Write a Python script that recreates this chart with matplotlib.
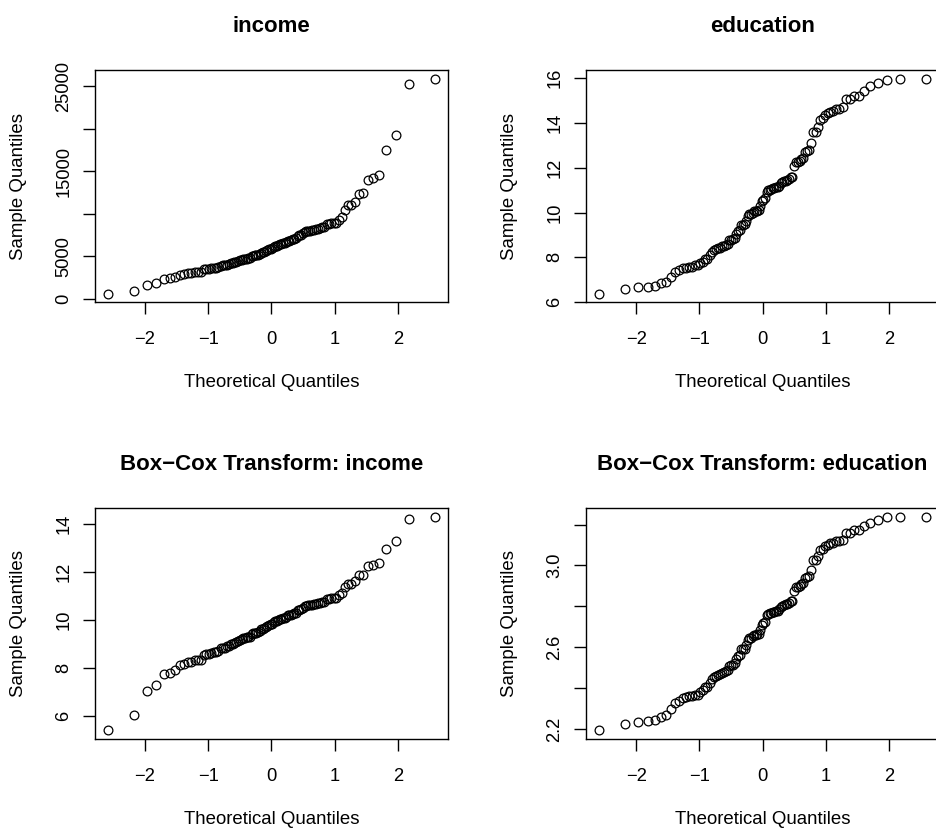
import numpy as np
import matplotlib
matplotlib.use('Agg')
import matplotlib.pyplot as plt
from statistics import NormalDist

# ---------- data: Prestige occupations ----------
income = [12351, 25879, 9271, 8865, 8403, 11030, 8258, 14163, 11377, 11023,
          5902, 7059, 8425, 8049, 7405, 6336, 19263, 6112, 9593, 4686,
          12480, 5648, 8034, 25308, 14558, 17498, 4614, 3485, 5092, 10432,
          5180, 6197, 7562, 8206, 4036, 3148, 4348, 2448, 4330, 4761,
          3016, 2901, 5511, 3739, 3161, 4741, 5052, 6259, 4075, 7482,
          8780, 2594, 918, 2370, 8131, 6992, 7956, 8895, 8891, 3116,
          3930, 7869, 611, 3000, 3472, 3582, 3643, 1656, 6860, 4199,
          5134, 5134, 1890, 4443, 3485, 8043, 6686, 6565, 6477, 5811,
          6573, 3942, 5449, 2847, 5795, 7716, 4696, 8316, 7147, 8880,
          5299, 5959, 4549, 6928, 3910, 14032, 6824, 5562, 4224, 4753,
          6462, 3617]

education = [13.11, 12.26, 12.77, 11.42, 14.62, 15.64, 15.09, 15.44, 14.52, 14.64,
             12.39, 12.30, 13.83, 14.44, 14.36, 14.21, 15.77, 14.15, 15.22, 14.50,
             15.97, 13.62, 15.08, 15.96, 15.94, 14.71, 12.46, 9.45, 13.62, 15.21,
             12.79, 11.09, 12.71, 11.44, 11.59, 11.49, 11.32, 10.64, 11.36, 9.17,
             12.09, 11.04, 9.22, 10.07, 10.51, 11.20, 11.13, 11.43, 11.00, 9.84,
             11.13, 10.05, 9.62, 9.93, 11.60, 11.09, 11.03, 9.47, 10.93, 7.74,
             8.50, 10.57, 9.46, 7.33, 7.11, 7.58, 6.84, 8.60, 8.88, 7.54,
             7.64, 7.64, 7.42, 6.69, 6.74, 10.09, 8.81, 8.40, 7.92, 8.43,
             8.78, 8.76, 10.29, 6.38, 8.10, 10.10, 6.67, 9.05, 9.93, 8.24,
             6.92, 6.60, 7.81, 8.33, 7.52, 12.27, 8.49, 7.58, 7.93, 8.37,
             10.00, 8.55]

# power transform: y = a + b * x**lam
bc_income = dict(lam=0.24, a=-0.71, b=1.3098)
bc_education = dict(lam=0.424, a=0.0, b=1.0)

titles = ['income', 'education',
          'Box\u2212Cox Transform: income', 'Box\u2212Cox Transform: education']
xticks = [-2, -1, 0, 1, 2]
yticks = [[0, 5000, 10000, 15000, 20000, 25000],
          [6, 8, 10, 12, 14, 16],
          [6, 8, 10, 12, 14],
          [2.2, 2.4, 2.6, 2.8, 3.0, 3.2]]
ylabels = [['0', '5000', '', '15000', '', '25000'],
           ['6', '8', '10', '12', '14', '16'],
           ['6', '8', '10', '12', '14'],
           ['2.2', '', '2.6', '', '3.0', '']]


def power_tf(vals, p):
    v = np.asarray(vals, dtype=float)
    return p['a'] + p['b'] * v ** p['lam']


samples = [np.array(income, dtype=float), np.array(education, dtype=float),
           power_tf(income, bc_income), power_tf(education, bc_education)]

plt.rcParams['font.family'] = ['Liberation Sans', 'DejaVu Sans']

W, H = 937, 833
fig = plt.figure(figsize=(W / 100, H / 100), dpi=100)

boxes = [(95, 70.3, 447.7, 302.3), (586.3, 70.3, 939, 302.3),
         (95, 508.3, 447.7, 739), (586.3, 508.3, 939, 739)]

nd = NormalDist()
for i in range(4):
    x0, y0, x1, y1 = boxes[i]
    ax = fig.add_axes([x0 / W, 1 - y1 / H, (x1 - x0) / W, (y1 - y0) / H])
    y = np.sort(samples[i])
    n = len(y)
    theo = np.array([nd.inv_cdf((k + 0.5) / n) for k in range(n)])  # ppoints

    ax.plot(theo, y, 'o', mfc='none', mec='black', ms=6.3, mew=0.9)

    # ---------- R style 4% axis padding ----------
    xr = theo.max() - theo.min()
    yr = y.max() - y.min()
    ax.set_xlim(theo.min() - 0.04 * xr, theo.max() + 0.04 * xr)
    ax.set_ylim(y.min() - 0.04 * yr, y.max() + 0.04 * yr)

    ax.set_xticks(xticks)
    ax.set_xticklabels(['\u22122', '\u22121', '0', '1', '2'])
    ax.set_yticks(yticks[i])
    ax.set_yticklabels(ylabels[i], rotation=90, va='center')

    ax.tick_params(axis='both', length=8.4, width=1.0, direction='out',
                   labelsize=13.2, color='black')
    ax.tick_params(axis='x', pad=12.5)
    ax.tick_params(axis='y', pad=8)
    for s in ax.spines.values():
        s.set_linewidth(1.0)
        s.set_color('black')

    h = y1 - y0
    ax.set_title(titles[i], fontsize=16, fontweight='bold', pad=27.4)
    ax.set_xlabel('Theoretical Quantiles', fontsize=13.4, va='baseline')
    ax.xaxis.set_label_coords(0.5, -84.5 / h)
    ax.set_ylabel('Sample Quantiles', fontsize=13.4, va='center')
    ax.yaxis.set_label_coords(-76.5 / (x1 - x0), 0.5)

fig.savefig('out.png', dpi=100)
